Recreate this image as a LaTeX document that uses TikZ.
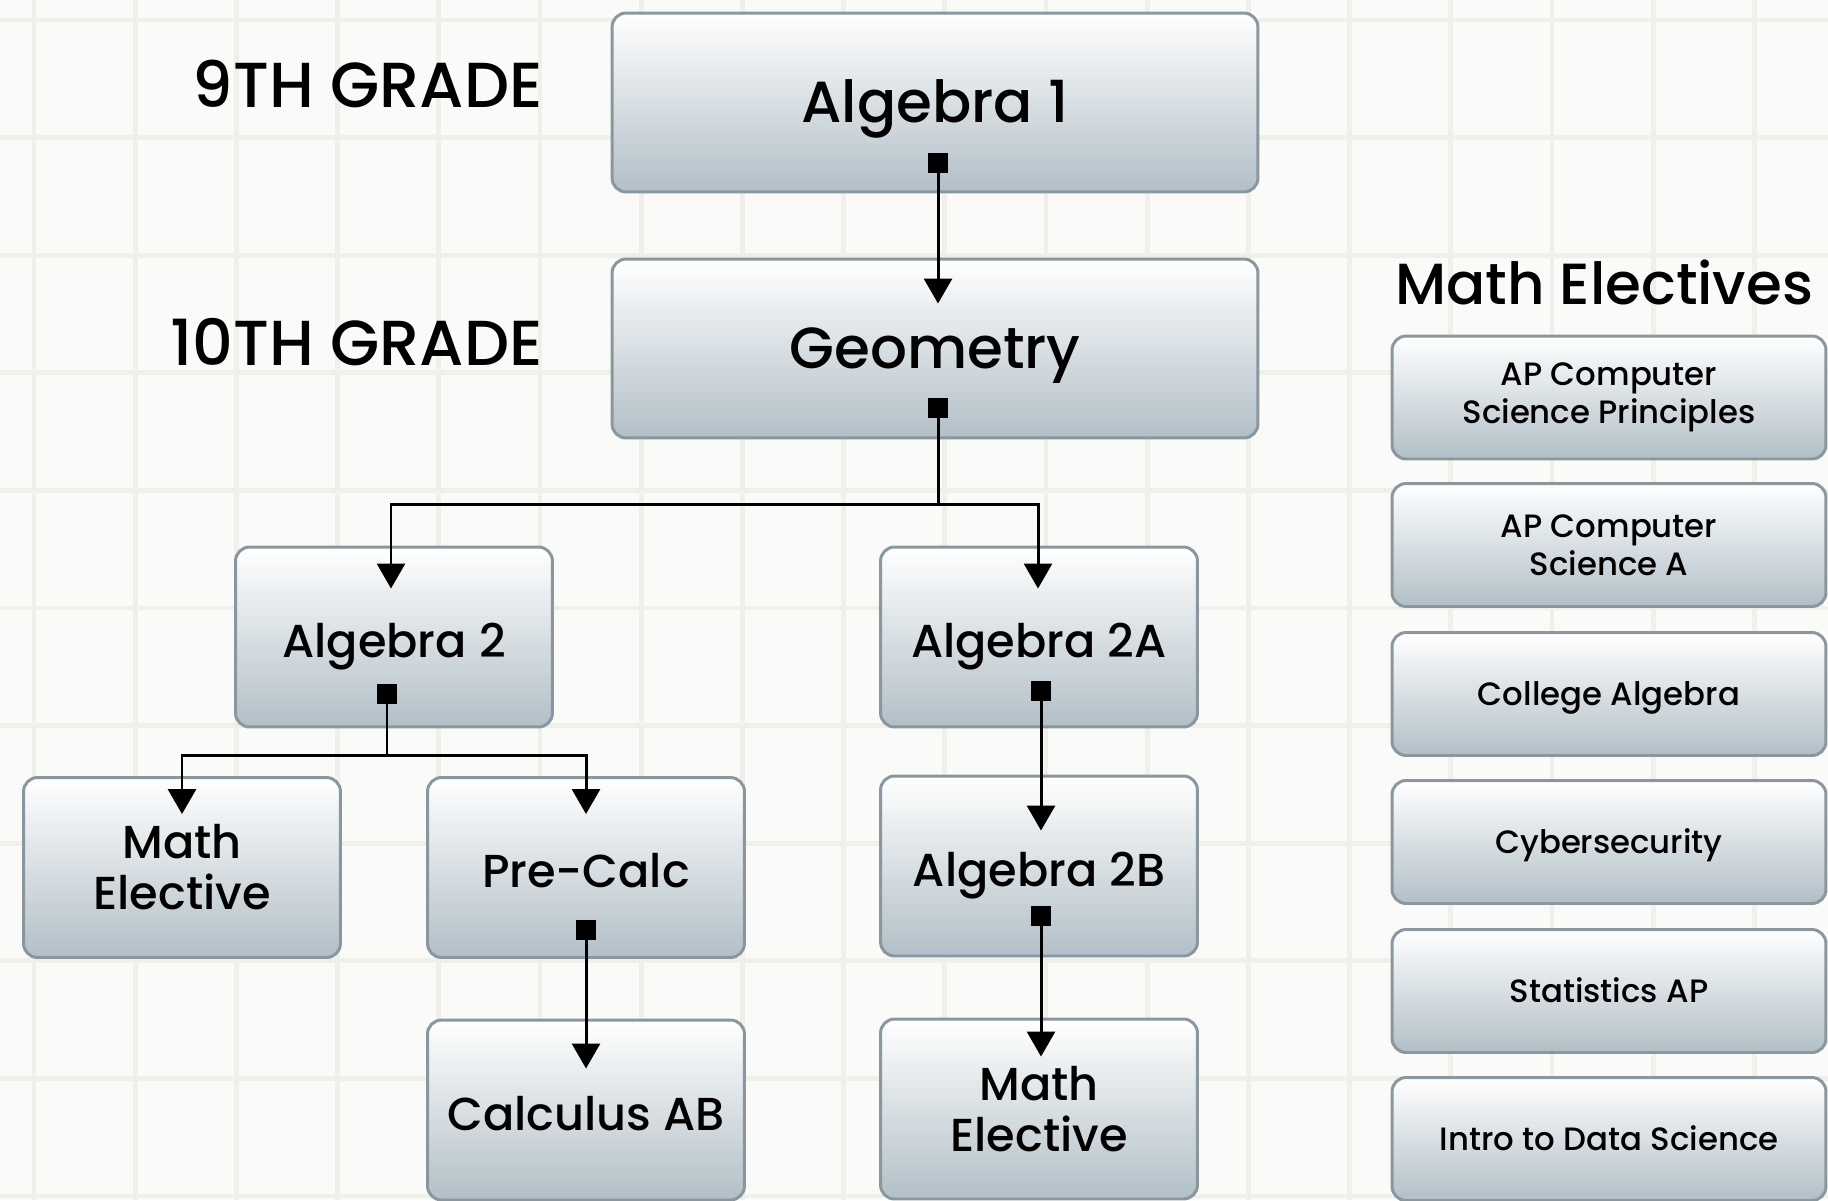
\documentclass[tikz,border=0pt]{standalone}
\usepackage{fontspec}
\IfFontExistsTF{Poppins Medium}{\setmainfont{Poppins Medium}}{\setmainfont{Poppins}}
\usetikzlibrary{arrows.meta,calc}
\definecolor{bg}{HTML}{FAFBF8}
\definecolor{gridc}{HTML}{EEF0E9}
\definecolor{boxline}{HTML}{8A979F}
\definecolor{boxbot}{HTML}{B2BFC7}
\definecolor{boxmid}{HTML}{E2E7EA}
\begin{document}
\begin{tikzpicture}[x=0.02cm,y=-0.02cm,
  gridline/.style={line width=2.8pt, draw=gridc},
  box/.style={rectangle, rounded corners=8pt, draw=boxline, line width=1.7pt,
    top color=white, middle color=boxmid, bottom color=boxbot, inner sep=0pt, align=center},
  mainbox/.style={box, minimum width=12.92cm, minimum height=3.58cm,
    font=\fontsize{33}{37}\selectfont, text height=23.1pt, text depth=0pt},
  tierbox/.style={box, minimum width=6.34cm, minimum height=3.6cm,
    font=\fontsize{26.3}{29}\selectfont},
  tierone/.style={tierbox, text height=22.9pt, text depth=0pt},
  elecbox/.style={box, minimum width=8.68cm, minimum height=2.46cm,
    font=\fontsize{18.4}{21.8}\selectfont},
  elecone/.style={elecbox, text height=12.9pt, text depth=0pt},
  grade/.style={font=\fontsize{36.2}{40}\selectfont, inner sep=0pt, anchor=base east},
  conn/.style={line width=1.7pt, {Square[length=11.3pt,width=11.3pt]}-{Triangle[width=15.9pt,length=14.2pt]}}
]
\useasboundingbox (0,0) rectangle (1828,1200);
\fill[bg] (0,0) rectangle (1828,1200);
\foreach \k in {0,...,17} \draw[gridline] ({34+101.2*\k},0) -- ({34+101.2*\k},1200);
\foreach \k in {0,...,10} \draw[gridline] (0,{20+117.6*\k}) -- (1828,{20+117.6*\k});

% grade labels
\node[grade] (g9) at (543,107) {9TH GRADE};
\node[grade] (g10) at (543,365) {10TH GRADE};
\node[font=\fontsize{33}{38}\selectfont, inner sep=0pt, anchor=base] (mel) at (1604,304) {Math Electives};

% main chain
\node[mainbox] (alg1) at (935,102.5) {Algebra 1};
\node[mainbox] (geo) at (935,348.5) {Geometry};
\node[tierone] (alg2) at (394,637) {Algebra 2};
\node[tierone] (alg2a) at (1039,637) {Algebra 2A};
\node[tierbox] (mathel1) at (182,867.5) {Math\\Elective};
\node[tierone] (precalc) at (586,867.5) {Pre-Calc};
\node[tierone] (calc) at (586,1110) {Calculus AB};
\node[tierone] (alg2b) at (1039,866) {Algebra 2B};
\node[tierbox] (mathel2) at (1039,1109) {Math\\Elective};

% electives
\node[elecbox] (e1) at (1609,397.5) {AP Computer\\Science Principles};
\node[elecbox] (e2) at (1609,545) {AP Computer\\Science A};
\node[elecone] (e3) at (1609,694) {College Algebra};
\node[elecone] (e4) at (1609,842) {Cybersecurity};
\node[elecone] (e5) at (1609,991) {Statistics AP};
\node[elecone] (e6) at (1609,1139) {Intro to Data Science};

% connectors
\draw[conn] ($(alg1.south)+(3,-40)$) -- ($(geo.north)+(3,46)$);
\coordinate (gj) at ($(geo.south)+(3,65)$);
\draw[conn] ($(geo.south)+(3,-41)$) -- (gj) -| ($(alg2.north)+(-3,43)$);
\draw[conn] ($(geo.south)+(3,-41)$) -- (gj) -| ($(alg2a.north)+(-1,43)$);
\coordinate (aj) at ($(alg2.south)+(-7,27)$);
\draw[conn] ($(alg2.south)+(-7,-44)$) -- (aj) -| ($(mathel1.north)+(0,38)$);
\draw[conn] ($(alg2.south)+(-7,-44)$) -- (aj) -| ($(precalc.north)+(0,38)$);
\draw[conn] ($(precalc.south)+(0,-39)$) -- ($(calc.north)+(0,50)$);
\draw[conn] ($(alg2a.south)+(2,-47)$) -- ($(alg2b.north)+(2,56)$);
\draw[conn] ($(alg2b.south)+(2,-51)$) -- ($(mathel2.north)+(2,39)$);
\end{tikzpicture}
\end{document}
